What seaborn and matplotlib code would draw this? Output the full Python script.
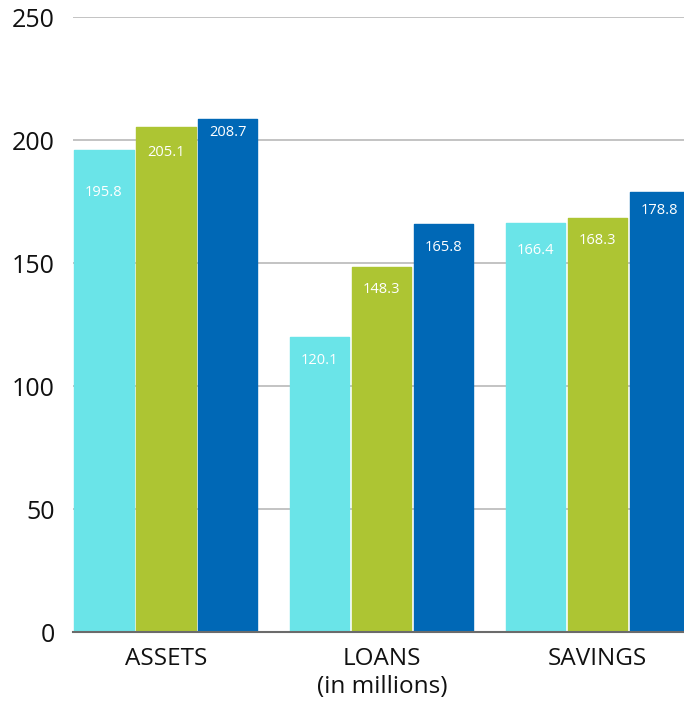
import pandas as pd
import matplotlib.pyplot as plt
import seaborn as sns

# Data
categories = ['ASSETS', 'LOANS\n(in millions)', 'SAVINGS']
series = ['Year 1', 'Year 2', 'Year 3']
year1 = [195.8, 120.1, 166.4]
year2 = [205.1, 148.3, 168.3]
year3 = [208.7, 165.8, 178.8]
yticks = [0, 50, 100, 150, 200, 250]

palette = ['#6ae4e8', '#adc533', '#0068b6']
# how far below each bar top its label sits (points)
label_drop = [[-30, -18, -10], [-17, -16, -17], [-20, -16, -13]]

rows = []
for s, vals in zip(series, [year1, year2, year3]):
    for c, v in zip(categories, vals):
        rows.append({'category': c, 'series': s, 'value': v})
df = pd.DataFrame(rows)

sns.set_style("white")
plt.rcParams['font.family'] = ['Open Sans', 'DejaVu Sans']

fig = plt.figure(figsize=(6.84, 7.01), dpi=100)
ax = fig.add_axes([0.1067, 0.0984, 0.8933, 0.8773])

sns.barplot(data=df, x='category', y='value', hue='series', order=categories,
            hue_order=series, palette=palette, width=0.861, gap=0.045,
            saturation=1, legend=False, ax=ax, zorder=3)

# thin same-colour outline with round joins -> slightly rounded corners
for bar in ax.patches:
    bar.set_edgecolor(bar.get_facecolor())
    bar.set_linewidth(1.0)
    bar.set_joinstyle('round')

for i, container in enumerate(ax.containers):
    for j, bar in enumerate(container):
        ax.annotate(f'{bar.get_height():.1f}',
                    (bar.get_x() + bar.get_width() / 2, bar.get_height()),
                    xytext=(0, label_drop[j][i]), textcoords='offset points',
                    ha='center', va='center', color='white', fontsize=10.5,
                    zorder=6)

ax.set_ylim(0, 250)
ax.set_xlim(-0.4306, 2.40)
ax.set_yticks(yticks)
ax.yaxis.grid(True, color='#c3c3c3', linewidth=1.4, zorder=0)
ax.set_axisbelow(True)
ax.tick_params(axis='y', length=0, pad=13, labelsize=18, labelcolor='#111111')
ax.tick_params(axis='x', length=0, pad=11, labelsize=17.5, labelcolor='#111111')
ax.set_xlabel('')
ax.set_ylabel('')
for side in ['left', 'right', 'top']:
    ax.spines[side].set_visible(False)
ax.spines['bottom'].set_color('#6b6b6b')
ax.spines['bottom'].set_linewidth(1.5)
ax.spines['bottom'].set_zorder(5)

plt.savefig('out.png', dpi=100)
plt.close()
